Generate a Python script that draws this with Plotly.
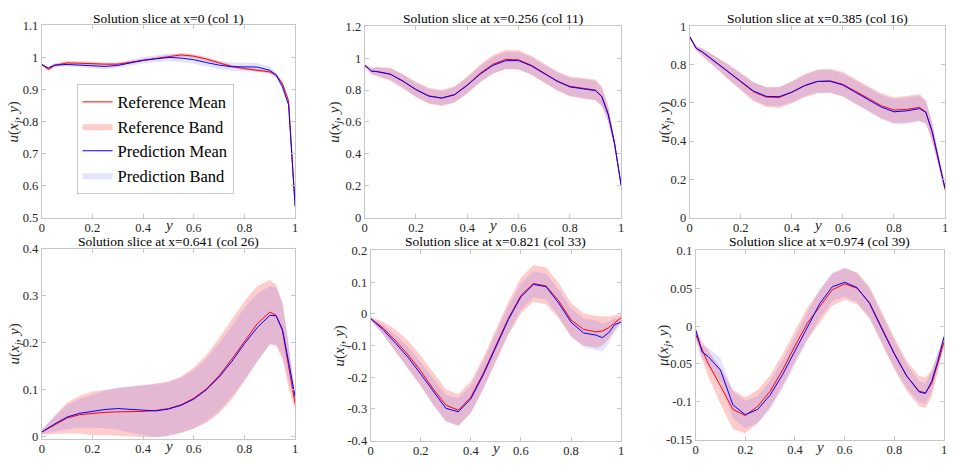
import plotly.graph_objects as go

# ---------------- data ----------------
Y = [0, 0.026, 0.05, 0.1, 0.15, 0.2, 0.25, 0.3, 0.35, 0.4, 0.45, 0.5,
     0.55, 0.6, 0.65, 0.7, 0.75, 0.8, 0.85, 0.9, 0.925, 0.95, 0.974, 1.0]

TITLES = ["Solution slice at x=0 (col 1)", "Solution slice at x=0.256 (col 11)",
          "Solution slice at x=0.385 (col 16)", "Solution slice at x=0.641 (col 26)",
          "Solution slice at x=0.821 (col 33)", "Solution slice at x=0.974 (col 39)"]

p1_ref_mean = [0.978, 0.962, 0.975, 0.983, 0.982, 0.980, 0.979, 0.979, 0.985, 0.992, 0.998, 1.004,
               1.008, 1.004, 0.995, 0.983, 0.972, 0.965, 0.961, 0.955, 0.945, 0.918, 0.864, 0.535]
p1_pred_mean = [0.978, 0.967, 0.976, 0.978, 0.976, 0.973, 0.972, 0.975, 0.983, 0.991, 0.996, 1.000,
                0.998, 0.993, 0.984, 0.976, 0.971, 0.970, 0.970, 0.960, 0.945, 0.908, 0.852, 0.535]
p1_ref_half = [0.003, 0.004, 0.005, 0.006, 0.006, 0.005, 0.005, 0.005, 0.005, 0.005, 0.005, 0.006,
               0.006, 0.006, 0.006, 0.005, 0.005, 0.005, 0.005, 0.005, 0.006, 0.007, 0.008, 0.003]
p1_pred_half = [0.003, 0.004, 0.005, 0.006, 0.006, 0.007, 0.008, 0.008, 0.009, 0.010, 0.011, 0.012,
                0.013, 0.013, 0.013, 0.013, 0.013, 0.013, 0.013, 0.011, 0.009, 0.008, 0.007, 0.003]

p2_ref_mean = [0.956, 0.918, 0.915, 0.900, 0.855, 0.803, 0.764, 0.750, 0.772, 0.832, 0.905, 0.962,
               0.993, 0.990, 0.956, 0.905, 0.858, 0.824, 0.813, 0.800, 0.760, 0.650, 0.470, 0.200]
p2_pred_mean = [0.956, 0.920, 0.916, 0.900, 0.856, 0.803, 0.762, 0.750, 0.770, 0.830, 0.900, 0.955,
                0.985, 0.985, 0.952, 0.903, 0.856, 0.820, 0.810, 0.797, 0.757, 0.645, 0.470, 0.205]
p2_ref_half = [0.008, 0.020, 0.030, 0.040, 0.045, 0.048, 0.050, 0.050, 0.052, 0.054, 0.056, 0.058,
               0.060, 0.060, 0.060, 0.060, 0.060, 0.062, 0.065, 0.066, 0.062, 0.050, 0.030, 0.010]
p2_pred_half = [0.007, 0.018, 0.027, 0.036, 0.040, 0.043, 0.045, 0.045, 0.047, 0.049, 0.050, 0.052,
                0.054, 0.054, 0.054, 0.054, 0.055, 0.057, 0.060, 0.060, 0.056, 0.045, 0.027, 0.009]

p3_ref_mean = [0.946, 0.885, 0.865, 0.815, 0.763, 0.710, 0.658, 0.630, 0.628, 0.655, 0.690, 0.712,
               0.715, 0.697, 0.662, 0.623, 0.585, 0.562, 0.566, 0.576, 0.552, 0.445, 0.300, 0.145]
p3_pred_mean = [0.946, 0.885, 0.866, 0.816, 0.764, 0.712, 0.662, 0.634, 0.632, 0.656, 0.690, 0.712,
                0.713, 0.693, 0.656, 0.616, 0.578, 0.553, 0.558, 0.570, 0.550, 0.448, 0.305, 0.155]
p3_ref_half = [0.008, 0.012, 0.020, 0.030, 0.040, 0.046, 0.050, 0.052, 0.055, 0.058, 0.061, 0.063,
               0.064, 0.064, 0.064, 0.064, 0.065, 0.067, 0.070, 0.070, 0.062, 0.050, 0.030, 0.010]
p3_pred_half = [0.007, 0.011, 0.018, 0.027, 0.036, 0.042, 0.046, 0.048, 0.050, 0.053, 0.056, 0.058,
                0.059, 0.060, 0.060, 0.061, 0.063, 0.066, 0.068, 0.066, 0.058, 0.046, 0.028, 0.010]

p4_ref_mean = [0.010, 0.018, 0.026, 0.040, 0.047, 0.050, 0.052, 0.053, 0.053, 0.054, 0.056, 0.060,
               0.068, 0.082, 0.102, 0.130, 0.165, 0.203, 0.240, 0.265, 0.258, 0.225, 0.150, 0.070]
p4_pred_mean = [0.010, 0.019, 0.027, 0.042, 0.050, 0.054, 0.058, 0.060, 0.058, 0.057, 0.055, 0.059,
                0.067, 0.080, 0.100, 0.127, 0.160, 0.198, 0.232, 0.258, 0.257, 0.228, 0.160, 0.085]
p4_ref_half = [0.005, 0.012, 0.020, 0.033, 0.040, 0.046, 0.048, 0.050, 0.052, 0.055, 0.057, 0.058,
               0.060, 0.065, 0.072, 0.080, 0.085, 0.085, 0.080, 0.068, 0.065, 0.060, 0.045, 0.012]
p4_pred_half = [0.004, 0.010, 0.016, 0.026, 0.031, 0.035, 0.040, 0.045, 0.050, 0.054, 0.056, 0.057,
                0.058, 0.062, 0.067, 0.072, 0.075, 0.076, 0.072, 0.062, 0.060, 0.055, 0.040, 0.010]

p5_ref_mean = [-0.015, -0.030, -0.045, -0.085, -0.130, -0.180, -0.237, -0.288, -0.304, -0.263, -0.187, -0.100,
               -0.014, 0.058, 0.096, 0.088, 0.042, -0.019, -0.049, -0.057, -0.054, -0.044, -0.029, -0.012]
p5_pred_mean = [-0.015, -0.033, -0.050, -0.093, -0.138, -0.190, -0.246, -0.298, -0.309, -0.268, -0.192, -0.104,
                -0.018, 0.054, 0.093, 0.086, 0.035, -0.026, -0.060, -0.067, -0.075, -0.060, -0.034, -0.026]
p5_ref_half = [0.005, 0.012, 0.020, 0.035, 0.045, 0.048, 0.050, 0.050, 0.050, 0.050, 0.050, 0.051,
               0.053, 0.056, 0.058, 0.058, 0.056, 0.053, 0.051, 0.050, 0.046, 0.036, 0.025, 0.010]
p5_pred_half = [0.004, 0.010, 0.016, 0.026, 0.033, 0.037, 0.040, 0.042, 0.043, 0.043, 0.043, 0.043,
                0.043, 0.042, 0.041, 0.041, 0.042, 0.043, 0.045, 0.047, 0.044, 0.035, 0.022, 0.008]

p6_ref_mean = [-0.011, -0.032, -0.049, -0.079, -0.110, -0.118, -0.106, -0.086, -0.058, -0.026, 0.004, 0.026,
               0.048, 0.056, 0.050, 0.031, -0.003, -0.036, -0.066, -0.086, -0.088, -0.076, -0.050, -0.021]
p6_pred_mean = [-0.005, -0.034, -0.040, -0.058, -0.104, -0.117, -0.110, -0.091, -0.064, -0.032, 0.000, 0.030,
                0.052, 0.058, 0.051, 0.030, -0.004, -0.037, -0.066, -0.087, -0.089, -0.073, -0.047, -0.014]
p6_ref_half = [0.008, 0.012, 0.017, 0.024, 0.026, 0.024, 0.022, 0.021, 0.021, 0.021, 0.021, 0.021,
               0.021, 0.021, 0.021, 0.021, 0.021, 0.021, 0.020, 0.020, 0.020, 0.018, 0.014, 0.007]
p6_pred_half = [0.004, 0.008, 0.012, 0.016, 0.018, 0.018, 0.018, 0.019, 0.019, 0.019, 0.019, 0.019,
                0.019, 0.019, 0.019, 0.019, 0.019, 0.018, 0.016, 0.014, 0.014, 0.013, 0.010, 0.005]

X_TICKS = [0, 0.2, 0.4, 0.6, 0.8, 1]
X_TICKTEXT = ["0", "0.2", "0.4", "0.6", "0.8", "1"]
Y_TICKS = [
    [0.5, 0.6, 0.7, 0.8, 0.9, 1.0, 1.1],
    [0, 0.2, 0.4, 0.6, 0.8, 1.0, 1.2],
    [0, 0.2, 0.4, 0.6, 0.8, 1.0],
    [0, 0.1, 0.2, 0.3, 0.4],
    [-0.4, -0.3, -0.2, -0.1, 0, 0.1, 0.2],
    [-0.15, -0.1, -0.05, 0, 0.05, 0.1],
]
Y_TICKTEXT = [
    ["0.5", "0.6", "0.7", "0.8", "0.9", "1", "1.1"],
    ["0", "0.2", "0.4", "0.6", "0.8", "1", "1.2"],
    ["0", "0.2", "0.4", "0.6", "0.8", "1"],
    ["0", "0.1", "0.2", "0.3", "0.4"],
    ["-0.4", "-0.3", "-0.2", "-0.1", "0", "0.1", "0.2"],
    ["-0.15", "-0.1", "-0.05", "0", "0.05", "0.1"],
]
Y_RANGES = [[0.5, 1.1], [0, 1.2], [0, 1], [-0.004, 0.4], [-0.4, 0.2], [-0.15, 0.1]]

# ---------------- layout geometry (pixels) ----------------
W, H = 956, 468
# (left, right, top, bottom) of each plot area
BOXES = [(39, 294, 19, 217), (364, 622, 20, 217), (691, 948, 20, 217),
         (39, 294, 249, 445), (370, 622, 251, 447), (697, 947, 251, 446)]
YLABEL_X = [12, 334, 666, 12, 339, 665]
TITLE_Y = [12, 12, 12, 242, 242, 242]

panels = [
    (p1_ref_mean, p1_ref_half, p1_pred_mean, p1_pred_half),
    (p2_ref_mean, p2_ref_half, p2_pred_mean, p2_pred_half),
    (p3_ref_mean, p3_ref_half, p3_pred_mean, p3_pred_half),
    (p4_ref_mean, p4_ref_half, p4_pred_mean, p4_pred_half),
    (p5_ref_mean, p5_ref_half, p5_pred_mean, p5_pred_half),
    (p6_ref_mean, p6_ref_half, p6_pred_mean, p6_pred_half),
]

FONT = "Liberation Serif, Times New Roman, serif"
REF_LINE = "rgb(255,0,0)"
PRED_LINE = "rgb(0,0,255)"
REF_FILL = "rgba(255,0,0,0.2)"
PRED_FILL = "rgba(30,30,255,0.12)"
AX_COLOR = "#c6c6c6"
TXT_COLOR = "#262626"

fig = go.Figure()
layout = {}
annotations = []

for i, (rm, rh, pm, ph) in enumerate(panels):
    k = "" if i == 0 else str(i + 1)
    xa, ya = "x" + k, "y" + k
    first = i == 0
    band_x = Y + Y[::-1]
    ref_band = [m + h for m, h in zip(rm, rh)] + [m - h for m, h in zip(rm, rh)][::-1]
    pred_band = [m + h for m, h in zip(pm, ph)] + [m - h for m, h in zip(pm, ph)][::-1]

    fig.add_trace(go.Scatter(x=band_x, y=ref_band, fill="toself", fillcolor=REF_FILL,
                             line=dict(width=0), mode="lines", name="Reference Band",
                             showlegend=first, legendrank=2, hoverinfo="skip",
                             xaxis=xa, yaxis=ya))
    fig.add_trace(go.Scatter(x=band_x, y=pred_band, fill="toself", fillcolor=PRED_FILL,
                             line=dict(width=0), mode="lines", name="Prediction Band",
                             showlegend=first, legendrank=4, hoverinfo="skip",
                             xaxis=xa, yaxis=ya))
    fig.add_trace(go.Scatter(x=Y, y=rm, mode="lines", line=dict(color=REF_LINE, width=1),
                             name="Reference Mean", showlegend=first, legendrank=1,
                             xaxis=xa, yaxis=ya))
    fig.add_trace(go.Scatter(x=Y, y=pm, mode="lines", line=dict(color=PRED_LINE, width=1),
                             name="Prediction Mean", showlegend=first, legendrank=3,
                             xaxis=xa, yaxis=ya))

    l, r, t, b = BOXES[i]
    common = dict(showline=True, linecolor=AX_COLOR, linewidth=1, mirror="ticks",
                  ticks="inside", ticklen=4, tickcolor=AX_COLOR, tickwidth=1,
                  showgrid=False, zeroline=False,
                  tickfont=dict(family=FONT, size=12.5, color=TXT_COLOR))
    layout["xaxis" + k] = dict(common, domain=[l / W, r / W], range=[0, 1],
                               tickvals=X_TICKS, ticktext=X_TICKTEXT, anchor=ya,
                               ticklabelstandoff=-2)
    layout["yaxis" + k] = dict(common, domain=[1 - b / H, 1 - t / H], range=Y_RANGES[i],
                               tickvals=Y_TICKS[i], ticktext=Y_TICKTEXT[i], anchor=xa)

    # title
    annotations.append(dict(text=TITLES[i], x=(l + r) / 2 / W, y=1 - TITLE_Y[i] / H,
                            xref="paper", yref="paper", xanchor="center", yanchor="middle",
                            showarrow=False, borderpad=0,
                            font=dict(family=FONT, size=13.5, color="black")))
    # x label
    annotations.append(dict(text="<i>y</i>", x=0.5, xref=xa + " domain", y=1 - (b + 8) / H,
                            yref="paper", xanchor="center", yanchor="middle", showarrow=False,
                            borderpad=0, font=dict(family=FONT, size=15, color=TXT_COLOR)))
    # y label
    annotations.append(dict(text="<i>u</i>(<i>x<sub>j</sub></i>, <i>y</i>)",
                            x=YLABEL_X[i] / W, y=1 - (t + b) / 2 / H, xref="paper", yref="paper",
                            xanchor="center", yanchor="middle", textangle=-90, showarrow=False,
                            font=dict(family=FONT, size=15, color=TXT_COLOR)))

layout.update(
    width=W, height=H, margin=dict(l=0, r=0, t=0, b=0),
    paper_bgcolor="white", plot_bgcolor="white",
    showlegend=True,
    legend=dict(x=74 / W, y=1 - 79 / H, xanchor="left", yanchor="top",
                bgcolor="white", bordercolor="#c6c6c6", borderwidth=1,
                font=dict(family=FONT, size=16.5, color="black"),
                itemwidth=30, tracegroupgap=0),
    annotations=annotations,
)
fig.update_layout(**layout)
fig.write_html("out.html")
